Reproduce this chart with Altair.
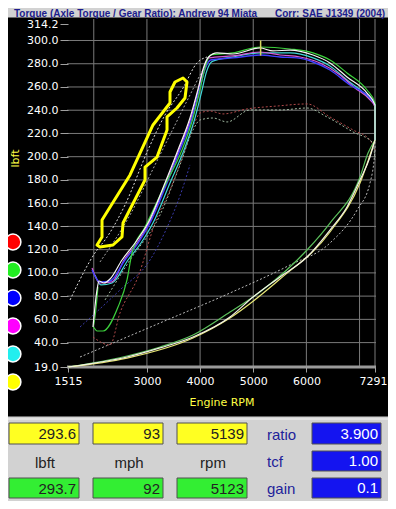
import altair as alt
import pandas as pd

# ---------------- values ----------------
x_ticks = [1515, 3000, 4000, 5000, 6000, 7291]
y_ticks = [19.0, 40.0, 60.0, 80.0, 100.0, 120.0, 140.0, 160.0, 180.0, 200.0,
           220.0, 240.0, 260.0, 280.0, 300.0, 314.2]
grid_rpm = [2000, 3000, 4000, 5000, 6000, 7000, 7291]
grid_lbft = [40, 60, 80, 100, 120, 140, 160, 180, 200, 220, 240, 260, 280, 300]

white_rpm = [1985, 2061, 2098, 2192, 2305, 2531, 2776, 3020, 3340, 3584, 3810, 3960, 4060,
             4160, 4318, 4619, 5128, 5372, 5692, 6125, 6444, 6764, 7141, 7291, 7291]
white_lbft = [53.4, 85.3, 93.0, 91.3, 94.7, 111.1, 125.7, 142.9, 177.4, 205.8, 233.3, 258.0, 276.0,
              285.8, 289.3, 288.4, 293.6, 291.0, 291.8, 287.5, 280.7, 268.6, 254.8, 244.5, 214.4]

blue_rpm = [1967, 2117, 2305, 2587, 2832, 3058, 3378, 3622, 3848, 3990, 4090, 4200, 4619,
            5128, 5504, 5824, 6125, 6444, 6821, 7197, 7291, 7291]
blue_lbft = [102.5, 92.2, 93.0, 111.1, 125.7, 142.9, 177.4, 205.8, 233.3, 258.0, 275.0, 283.2, 285.0,
             287.5, 285.8, 285.0, 281.5, 274.6, 261.7, 250.5, 244.5, 214.4]

magenta_rpm = [1967, 2117, 2343, 2569, 2813, 3039, 3359, 3603, 3829, 3970, 4070, 4170, 4619,
               5128, 5504, 5880, 6256, 6633, 6915, 7197, 7291, 7291]
magenta_lbft = [104.2, 91.3, 92.2, 111.1, 125.7, 142.9, 177.4, 205.8, 233.3, 258.0, 276.0, 285.0, 286.7,
                290.1, 287.5, 285.8, 280.7, 270.3, 259.1, 248.9, 242.8, 214.4]

cyan_rpm = [2023, 2136, 2343, 2644, 2888, 3114, 3434, 3698, 3904, 4030, 4120, 4230, 4619,
            5128, 5692, 6125, 6444, 6764, 7141, 7291, 7291]
cyan_lbft = [98.2, 89.6, 91.3, 111.1, 125.7, 142.9, 177.4, 205.8, 233.3, 256.0, 273.0, 282.0, 285.8,
             289.3, 289.3, 285.0, 278.1, 266.0, 252.3, 244.5, 214.4]

green_rpm = [2079, 1985, 2061, 2174, 2456, 2625, 2719, 2964, 3340, 3660, 3867, 3990, 4090,
             4190, 4619, 5128, 5692, 6125, 6444, 6764, 7141, 7291, 7291]
green_lbft = [87.9, 53.4, 50.0, 50.0, 70.6, 93.9, 117.1, 139.5, 175.6, 205.8, 233.3, 256.0, 276.0,
              287.5, 289.3, 294.4, 292.7, 289.3, 283.2, 272.1, 257.4, 246.2, 214.4]

loss_white_rpm = [1515, 2625, 3246, 3867, 4563, 4996, 5504, 6012, 6444, 6764, 7009, 7197, 7291]
loss_white_lbft = [19.0, 27.6, 35.4, 44.8, 62.0, 79.2, 96.5, 113.7, 136.9, 156.7, 180.0, 199.7, 214.4]
loss_green_rpm = [1515, 2625, 3246, 3867, 4563, 5128, 6012, 6444, 7009, 7160, 7291]
loss_green_lbft = [19.0, 28.5, 36.2, 46.5, 66.3, 83.6, 119.7, 142.9, 182.5, 203.2, 214.4]
loss_yellow_rpm = [1515, 2625, 3867, 4563, 5504, 6444, 7009, 7291]
loss_yellow_lbft = [19.0, 26.7, 44.0, 61.2, 94.7, 135.2, 177.4, 214.4]

dot_low_rpm = [1741, 3246, 4563, 5692, 6444, 6953, 7197, 7291, 7291]
dot_low_lbft = [27.6, 56.9, 82.7, 106.8, 125.7, 154.1, 177.4, 205.8, 214.4]
dot_early_rpm = [1553, 2061, 2211, 2587, 3020, 3340, 3679, 3942, 4130]
dot_early_lbft = [76.7, 119.7, 128.3, 158.4, 205.8, 235.9, 259.1, 280.7, 285.8]
dot_early2_rpm = [2117, 2682, 3152, 3528, 3810, 4055, 4187]
dot_early2_lbft = [109.4, 149.8, 192.9, 227.3, 253.1, 274.6, 283.2]
dot_red_rpm = [1985, 2305, 2493, 2832, 3152, 3434, 3716, 3904, 3999, 4187, 4431, 4883,
               5447, 6012, 6444, 6877, 7197, 7291]
dot_red_lbft = [44.8, 37.9, 65.5, 96.5, 142.9, 171.3, 205.8, 229.9, 237.6, 239.3, 236.8, 241.1,
                243.6, 245.4, 234.2, 223.0, 214.4, 205.8]
dot_green_rpm = [2211, 2682, 3246, 3622, 3867, 3999, 4243, 4507, 4939, 5504, 6012, 6388,
                 6877, 7254, 7291]
dot_green_lbft = [76.7, 111.1, 149.8, 192.9, 223.0, 231.6, 233.3, 229.9, 240.2, 240.2, 241.9, 234.2,
                  221.3, 211.8, 197.2]
dot_blue_rpm = [1741, 2493, 3058, 3340, 3660, 3810]
dot_blue_lbft = [53.4, 85.3, 111.1, 135.2, 171.3, 192.9]

loop_rpm = [2061, 2155, 2155, 2682, 3114, 3434, 3434, 3528, 3679, 3754, 3716, 3565,
            3378, 3378, 3190, 2964, 2964, 2550, 2531, 2362, 2117, 2061]
loop_lbft = [124.0, 130.9, 145.5, 184.3, 227.3, 246.2, 255.7, 264.3, 267.7, 264.3, 250.5, 241.9,
             234.2, 223.0, 199.7, 191.1, 180.0, 142.9, 130.9, 124.0, 122.3, 124.0]

peak_rpm = [5139]
peak_lbft_lo = [287.0]
peak_lbft_hi = [300.0]

title_left = "Torque (Axle Torque / Gear Ratio): Andrew 94 Miata"
title_right = "Corr: SAE J1349 (2004)"
run_colors = ["#ff0000", "#22ee22", "#0000ff", "#ff00ff", "#22eeee", "#ffff00"]
readout_top = ["293.6", "93", "5139"]
readout_units = ["lbft", "mph", "rpm"]
readout_bottom = ["293.7", "92", "5123"]
param_names = ["ratio", "tcf", "gain"]
param_values = ["3.900", "1.00", "0.1"]

# ---------------- chart ----------------
W, H = 307, 343
one = pd.DataFrame({"k": [0]})

x_axis = alt.Axis(values=x_ticks, format="d", title="Engine RPM", grid=False, domain=False,
                  tickSize=5, tickColor="#a0a0a0", labelColor="#ffffff",
                  labelFont="DejaVu Sans", labelFontSize=11, labelPadding=3,
                  labelOverlap=False, labelFlush=False,
                  labelOffset={"condition": {"test": "datum.value >= 7291", "value": -2},
                               "value": 0},
                  titleColor="#ffff44", titleFont="DejaVu Sans", titleFontSize=11,
                  titleFontWeight="normal", titleY=35, titleBaseline="middle", zindex=1)
y_axis = alt.Axis(values=y_ticks, format=".1f", title="lbft", grid=False, domain=False,
                  tickSize=8, tickColor="#a0a0a0", labelColor="#ffffff",
                  labelFont="DejaVu Sans", labelFontSize=11, labelPadding=2,
                  labelOverlap=False, labelFlush=False,
                  titleColor="#ffff44", titleFont="DejaVu Sans", titleFontSize=11,
                  titleFontWeight="normal", titleX=-53, titleY=134, titleAlign="center",
                  titleBaseline="middle", titleAngle=270, zindex=1)
xs = alt.Scale(domain=[1515, 7291], nice=False, zero=False)
ys = alt.Scale(domain=[19, 314.2], nice=False, zero=False)


def X():
    return alt.X("rpm:Q", scale=xs, axis=x_axis)


def Y(f="lbft"):
    return alt.Y(f + ":Q", scale=ys, axis=y_axis)


def curve(rpm, lbft, color, width=1.2, dash=None, opacity=1.0):
    df = pd.DataFrame({"rpm": rpm, "lbft": lbft, "i": list(range(len(rpm)))})
    kw = dict(color=color, strokeWidth=width, opacity=opacity, clip=False, interpolate="monotone")
    if dash:
        kw["strokeDash"] = dash
    return alt.Chart(df).mark_line(**kw).encode(x=X(), y=Y(), order="i:Q")


def loop(rpm, lbft, color, width):
    df = pd.DataFrame({"rpm": rpm, "lbft": lbft, "i": list(range(len(rpm)))})
    return alt.Chart(df).mark_line(color=color, strokeWidth=width, strokeJoin="round",
                                   strokeCap="round").encode(x=X(), y=Y(), order="i:Q")


def box(x1, x2, y1, y2, fill, stroke="#505050"):
    return alt.Chart(one).mark_rect(fill=fill, stroke=stroke, strokeWidth=1).encode(
        x=alt.value(x1), x2=alt.value(x2), y=alt.value(y1), y2=alt.value(y2))


def label(txt, x, y, color, size, align="left", weight="normal", font="Liberation Sans"):
    return alt.Chart(one).mark_text(align=align, baseline="middle", color=color,
                                    fontSize=size, fontWeight=weight, font=font).encode(
        x=alt.value(x), y=alt.value(y), text=alt.value(txt))


layers = []
# black panel
layers.append(box(-70, 330, -6, 392, "#000000", stroke="#000000"))
# grid
layers.append(alt.Chart(pd.DataFrame({"rpm": grid_rpm})).mark_rule(
    color="#7a7a7a", strokeWidth=1).encode(x=X(), y=alt.value(-5), y2=alt.value(H)))
layers.append(alt.Chart(pd.DataFrame({"lbft": grid_lbft})).mark_rule(
    color="#7a7a7a", strokeWidth=1).encode(y=Y(), x=alt.value(-1), x2=alt.value(W + 1)))
layers.append(alt.Chart(pd.DataFrame({"lbft": [19.0]})).mark_rule(
    color="#9a9a9a", strokeWidth=3).encode(y=Y(), x=alt.value(-1), x2=alt.value(W + 1)))

# dotted traces
layers.append(curve(dot_blue_rpm, dot_blue_lbft, "#3a3aa8", 1, [2, 2]))
layers.append(curve(dot_low_rpm, dot_low_lbft, "#b8b8b8", 1, [2, 2]))
layers.append(curve(dot_red_rpm, dot_red_lbft, "#b04a4a", 1, [2, 2]))
layers.append(curve(dot_green_rpm, dot_green_lbft, "#a0b8a0", 1, [2, 2]))
layers.append(curve(dot_early2_rpm, dot_early2_lbft, "#a8a8a8", 1, [2, 2]))
layers.append(curve(dot_early_rpm, dot_early_lbft, "#dcdcdc", 1, [2, 2]))

# loss traces
layers.append(curve(loss_green_rpm, loss_green_lbft, "#5cc05c", 1.2))
layers.append(curve(loss_yellow_rpm, loss_yellow_lbft, "#e6e676", 1.2))
layers.append(curve(loss_white_rpm, loss_white_lbft, "#f2f2e6", 1.2))

# main torque traces
layers.append(curve(cyan_rpm, cyan_lbft, "#40d8d8", 1.2))
layers.append(curve(magenta_rpm, magenta_lbft, "#d858d8", 1.2))
layers.append(curve(blue_rpm, blue_lbft, "#4040ff", 1.4))
layers.append(curve(green_rpm, green_lbft, "#3cd03c", 1.2))
layers.append(curve(white_rpm, white_lbft, "#f6f6f6", 1.2))

# hand-drawn yellow loop
layers.append(loop(loop_rpm, loop_lbft, "#ffff00", 3))

# peak cursor
layers.append(alt.Chart(pd.DataFrame({"rpm": peak_rpm, "lbft": peak_lbft_lo,
                                      "hi": peak_lbft_hi})).mark_rule(
    color="#d8d860", strokeWidth=1.5).encode(x=X(), y=Y(), y2="hi:Q"))

# run colour buttons
for i, c in enumerate(run_colors):
    layers.append(alt.Chart(one).mark_circle(fill=c, stroke="#ffffff", strokeWidth=1.5,
                                             size=250, opacity=1).encode(
        x=alt.value(-55), y=alt.value(218 + 28 * i)))

# title strip
layers.append(label(title_left, -54, -10, "#1c1c8c", 10, weight="bold"))
layers.append(label(title_right, 207, -10, "#1c1c8c", 10, weight="bold"))

# bottom panel
layers.append(alt.Chart(one).mark_rule(color="#f4f4f4", strokeWidth=1).encode(
    x=alt.value(-66), x2=alt.value(330), y=alt.value(395)))
layers.append(alt.Chart(one).mark_rule(color="#f4f4f4", strokeWidth=1).encode(
    x=alt.value(-66), y=alt.value(395), y2=alt.value(486)))
col_x = [(-59, 11), (25, 95), (109, 179)]
for j, (a, b) in enumerate(col_x):
    layers.append(box(a, b, 399, 420, "#ffff22"))
    layers.append(label(readout_top[j], b - 3, 410, "#222222", 15, align="right"))
    layers.append(label(readout_units[j], (a + b) / 2 + 1, 439, "#222222", 15, align="center"))
    layers.append(box(a, b, 454, 474, "#33ee33"))
    layers.append(label(readout_bottom[j], b - 3, 465, "#222222", 15, align="right"))
for j, yy in enumerate([(399, 420), (427, 447), (454, 474)]):
    layers.append(label(param_names[j], 199, (yy[0] + yy[1]) / 2 + 1, "#22229a", 15))
    layers.append(box(244, 313, yy[0], yy[1], "#1414f0"))
    layers.append(label(param_values[j], 310, (yy[0] + yy[1]) / 2, "#ffffff", 15, align="right"))

chart = alt.layer(*layers).properties(
    width=W, height=H,
    autosize=alt.AutoSizeParams(type="none"),
    padding={"left": 60, "top": 16, "right": 13, "bottom": 134},
    background="#d2d2d2",
).configure_view(strokeWidth=0)

chart.save("out.html", embed_options={"renderer": "svg", "actions": False})
